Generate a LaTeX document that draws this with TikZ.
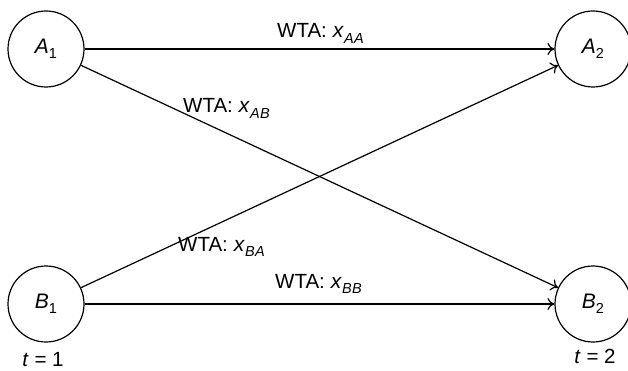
\documentclass[tikz,border=0pt]{standalone}
\usepackage{fontspec}
\setmainfont{Liberation Sans}
\usetikzlibrary{arrows.meta}
\newcommand{\vr}[2]{{\fontsize{21}{21}\selectfont\textit{#1}}\raisebox{-0.25em}{\fontsize{14.5}{14.5}\selectfont #2}}
\newcommand{\ssub}[2]{\textit{#1\kern0.5pt #2}}
\begin{document}
\begin{tikzpicture}[x=1pt,y=-1pt,
  state/.style={draw,circle,minimum size=76pt,inner sep=0pt,line width=1.2pt,font=\fontsize{21}{21}\selectfont},
  conn/.style={line width=1.2pt,-{To[length=7pt,width=12pt]}},
  lbl/.style={anchor=base west,inner sep=0pt,font=\fontsize{20.5}{20.5}\selectfont}]
\useasboundingbox (0,0) rectangle (628,371);
\node[state] (A1) at (46,49) {\vr{A}{1}};
\node[state] (A2) at (593,49) {\vr{A}{2}};
\node[state] (B1) at (46,304) {\vr{B}{1}};
\node[state] (B2) at (593,304) {\vr{B}{2}};
\draw[conn] (A1) -- (A2);
\draw[conn] (A1) -- (B2);
\draw[conn] (B1) -- (A2);
\draw[conn] (B1) -- (B2);
\node[lbl] (lAA) at (277,38) {WTA:\kern6pt\vr{x}{\ssub{A}{A}}};
\node[lbl] (lAB) at (183,113) {WTA:\kern6pt\vr{x}{\ssub{A}{B}}};
\node[lbl] (lBA) at (178,251) {WTA:\kern6pt\vr{x}{\ssub{B}{A}}};
\node[lbl] (lBB) at (275,288) {WTA:\kern6pt\vr{x}{\ssub{B}{B}}};
\node[lbl,anchor=base] (t1) at (43,366) {\textit{t} = 1};
\node[lbl,anchor=base] (t2) at (595,363) {\textit{t} = 2};
\end{tikzpicture}
\end{document}
